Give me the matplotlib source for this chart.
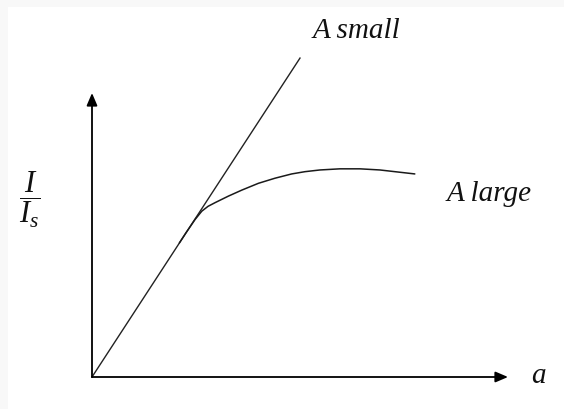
import numpy as np
import matplotlib.pyplot as plt
from matplotlib.patches import Rectangle

plt.rcParams['mathtext.fontset'] = 'custom'
plt.rcParams['mathtext.rm'] = 'Liberation Serif'
plt.rcParams['mathtext.it'] = 'Liberation Serif:italic'

# straight response for small A: passes through the origin
a_small = [0.0, 5.0]
i_small = [0.0, 11.23]

# saturating response for large A, leaves the straight line near a ~ 2.1
a_large = [2.10, 2.26, 2.48, 2.64, 2.79, 2.96, 3.28, 3.60, 4.00, 4.40, 4.80,
           5.12, 5.48, 5.96, 6.44, 6.92, 7.40, 7.76]
i_large = [4.72, 5.08, 5.55, 5.84, 6.01, 6.14, 6.37, 6.58, 6.82, 7.00, 7.15,
           7.23, 7.29, 7.33, 7.33, 7.29, 7.21, 7.15]

W, H = 564, 409
fig = plt.figure(figsize=(W / 100, H / 100), dpi=100, facecolor='#f8f8f8')
# white page with a thin grey margin on the left and top
fig.patches.append(Rectangle((8 / W, 0), 1 - 8 / W, 1 - 7 / H,
                             transform=fig.transFigure, facecolor='white',
                             edgecolor='none', zorder=-10))

# origin at pixel (92, 377), arrow tips at (508, 377) and (92, 93)
ax = fig.add_axes([92 / W, (H - 377) / H, 416 / W, 284 / H])
ax.set_zorder(1)
ax.set_xlim(0, 10)
ax.set_ylim(0, 10)
ax.axis('off')

# axes with filled arrow heads
arrow = dict(arrowstyle='-|>,head_length=0.75,head_width=0.32', color='black',
             lw=1.3, shrinkA=0, shrinkB=0)
ax.annotate('', xy=(10, 0), xytext=(0, 0), arrowprops=arrow, annotation_clip=False)
ax.annotate('', xy=(0, 10), xytext=(0, 0), arrowprops=arrow, annotation_clip=False)

ax.plot(a_small, i_small, color='#222222', lw=1.0, clip_on=False)
ax.plot(a_large, i_large, color='#1a1a1a', lw=1.1, clip_on=False,
        solid_capstyle='round', solid_joinstyle='round')

txt = dict(family='Liberation Serif', style='italic', color='#111111', fontsize=21)
ax.text(6.35, 12.18, 'A small', ha='center', va='center', clip_on=False, **txt)
ax.text(9.54, 6.45, 'A large', ha='center', va='center', clip_on=False, **txt)
ax.text(10.72, 0.05, 'a', ha='center', va='center', clip_on=False, **txt)
ax.text(-1.49, 6.25, r'$\dfrac{I}{I_s}$', ha='center', va='center',
        clip_on=False, fontsize=22, color='#111111')

fig.savefig('out.png', dpi=100, facecolor=fig.get_facecolor())
